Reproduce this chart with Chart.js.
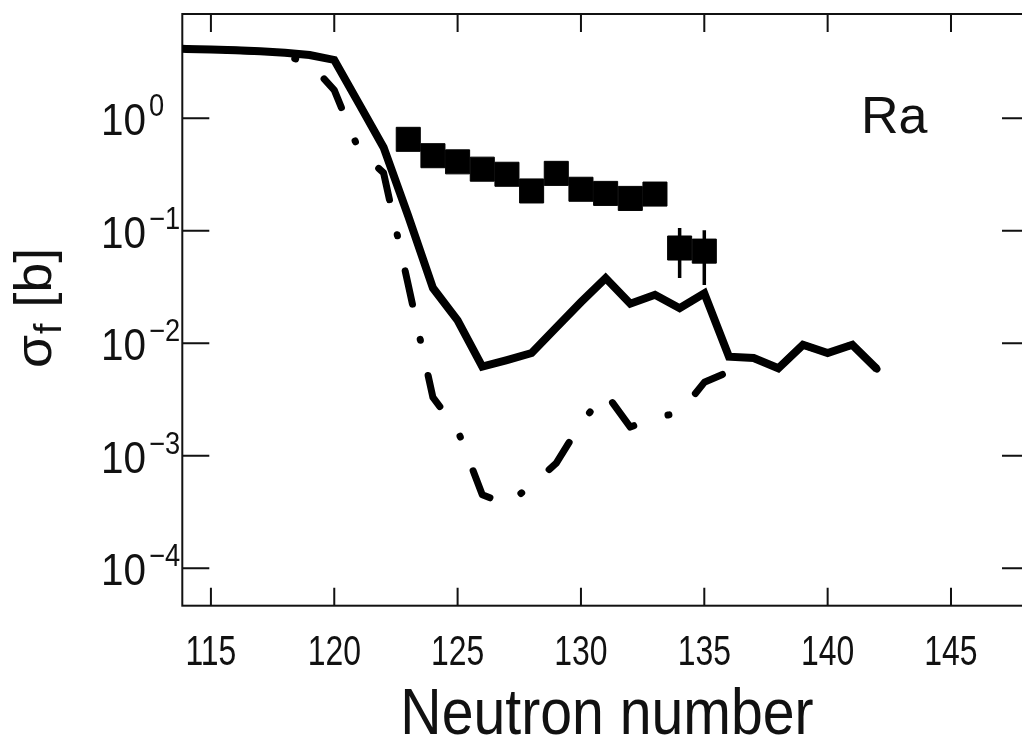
<!DOCTYPE html>
<html>
<head>
<meta charset="utf-8">
<script src="https://cdn.jsdelivr.net/npm/chart.js@4.4.1/dist/chart.umd.min.js"></script>
<style>
  html, body { margin: 0; padding: 0; background: #fff; overflow: hidden; }
  #myChart { display: block; }
</style>
</head>
<body>
<canvas id="myChart" width="1026" height="742"></canvas>
<script>
// neutron numbers for the calculated curves
const neutronN = [113, 114, 115, 116, 117, 118, 119, 120, 121, 122, 123, 124, 125, 126, 127,
  128, 129, 130, 131, 132, 133, 134, 135, 136, 137, 138, 139, 140, 141, 142];
// solid curve
const sigmaCalc = [4.2, 4.13, 4.08, 4.02, 3.95, 3.82, 3.65, 3.3, 1.35, 0.55, 0.135, 0.031, 0.016, 0.0062, 0.0071,
  0.0082, 0.0138, 0.0232, 0.038, 0.0225, 0.027, 0.0205, 0.0278, 0.0076, 0.0074, 0.006, 0.0097, 0.0082, 0.0097, 0.0059];
// dash-dot curve
const sigmaCalc2 = [4.2, 4.13, 4.08, 4.02, 3.92, 3.6, 3.1, 1.78, 0.52, 0.327, 0.033, 0.0033, 0.0017, 0.00045, 0.00037,
  0.00055, 0.00086, 0.00195, 0.0036, 0.0018, 0.0022, 0.0024, 0.0045, 0.0056, 0.0074, 0.006, 0.0097, 0.0082, 0.0097, 0.0059];
// experimental points
const expN = [123, 124, 125, 126, 127, 128, 129, 130, 131, 132, 133, 134, 135];
const sigmaExp = [0.65, 0.465, 0.41, 0.353, 0.318, 0.226, 0.324, 0.234, 0.215, 0.194, 0.212, 0.0703, 0.066];
const errN = [134, 135];
const errLow = [0.038, 0.033];
const errHigh = [0.106, 0.101];

const xTicks = [115, 120, 125, 130, 135, 140, 145];
const yTicks = [1, 0.1, 0.01, 0.001, 0.0001];
const yExponents = ["0", "\u22121", "\u22122", "\u22123", "\u22124"];

const sans = '"Liberation Sans", Arial, sans-serif';
const ink = "#111";

// text squeezed sideways, the original uses a narrow font
function narrowText(ctx, text, x, y, size, sx, align) {
  ctx.save();
  ctx.font = size + "px " + sans;
  ctx.textAlign = align || "left";
  ctx.textBaseline = "alphabetic";
  ctx.translate(x, y);
  ctx.scale(sx, 1);
  ctx.fillText(text, 0, 0);
  const w = ctx.measureText(text).width * sx;
  ctx.restore();
  return w;
}

const axisPlugin = {
  id: "axisFrame",
  beforeDatasetsDraw(chart) {
    const { ctx, chartArea: a, scales } = chart;
    ctx.save();
    ctx.strokeStyle = ink;
    ctx.lineWidth = 2;
    ctx.strokeRect(a.left, a.top, a.right - a.left, a.bottom - a.top);
    ctx.beginPath();
    xTicks.forEach((v) => {
      const px = scales.x.getPixelForValue(v);
      ctx.moveTo(px, a.bottom);
      ctx.lineTo(px, a.bottom - 18);
      ctx.moveTo(px, a.top);
      ctx.lineTo(px, a.top + 18);
    });
    yTicks.forEach((v) => {
      const py = scales.y.getPixelForValue(v);
      ctx.moveTo(a.left, py);
      ctx.lineTo(a.left + 27, py);
      ctx.moveTo(a.right, py);
      ctx.lineTo(a.right - 23, py);
    });
    ctx.stroke();
    ctx.restore();
  },
  afterDatasetsDraw(chart) {
    const { ctx, scales } = chart;
    ctx.save();
    ctx.strokeStyle = "#000";
    ctx.lineWidth = 3.5;
    ctx.beginPath();
    errN.forEach((n, i) => {
      const px = scales.x.getPixelForValue(n);
      ctx.moveTo(px, scales.y.getPixelForValue(errLow[i]));
      ctx.lineTo(px, scales.y.getPixelForValue(errHigh[i]));
    });
    ctx.stroke();
    ctx.restore();
  },
  afterDraw(chart) {
    const { ctx, scales } = chart;
    ctx.save();
    ctx.fillStyle = ink;
    // x tick labels
    xTicks.forEach((v) => {
      narrowText(ctx, String(v), scales.x.getPixelForValue(v), 665, 42, 0.76, "center");
    });
    // y tick labels 10^n
    yTicks.forEach((v, i) => {
      const py = scales.y.getPixelForValue(v);
      const w = narrowText(ctx, "10", 101, py + 17, 44, 0.92);
      narrowText(ctx, yExponents[i], 101 + w + 3, py - 2, 31, 0.88);
    });
    // x title
    narrowText(ctx, "Neutron number", 607, 734, 65, 0.88, "center");
    // y title: sigma_f [b]
    ctx.save();
    ctx.translate(51, 368);
    ctx.rotate(-Math.PI / 2);
    let x0 = 0;
    x0 += narrowText(ctx, "\u03c3", x0, 0, 52, 1.03);
    x0 += narrowText(ctx, "f", x0 + 1, 10, 38, 1.0) + 2;
    narrowText(ctx, " [b]", x0, 0, 52, 1.03);
    ctx.restore();
    // element label
    ctx.font = "52px " + sans;
    ctx.textAlign = "left";
    ctx.textBaseline = "alphabetic";
    ctx.fillText("Ra", 861, 133);
    ctx.restore();
  }
};

new Chart("myChart", {
  type: "line",
  data: {
    datasets: [
      {
        label: "exp",
        data: expN.map((n, i) => ({ x: n, y: sigmaExp[i] })),
        showLine: false,
        pointStyle: "rect",
        pointRadius: 17,
        pointBorderWidth: 1,
        pointBackgroundColor: "#000",
        pointBorderColor: "#000",
        order: 0,
      },
      {
        label: "calc",
        data: neutronN.map((n, i) => ({ x: n, y: sigmaCalc[i] })),
        borderColor: "#000",
        borderWidth: 8,
        pointRadius: 0,
        tension: 0,
        borderJoinStyle: "miter",
        order: 1,
      },
      {
        label: "calc2",
        data: neutronN.map((n, i) => ({ x: n, y: sigmaCalc2[i] })),
        borderColor: "#000",
        borderWidth: 7,
        pointRadius: 0,
        tension: 0,
        borderDash: [34, 36, 1, 36],
        borderDashOffset: 43,
        borderCapStyle: "round",
        borderJoinStyle: "round",
        order: 2,
      },
    ],
  },
  options: {
    responsive: false,
    devicePixelRatio: 1,
    animation: false,
    layout: { autoPadding: false, padding: { top: 14, right: 1, left: 0, bottom: 0 } },
    plugins: { legend: { display: false }, tooltip: { enabled: false } },
    scales: {
      x: {
        type: "linear",
        min: 113.84,
        max: 148.0,
        grid: { display: false, drawTicks: false },
        border: { display: false },
        afterBuildTicks: (scale) => {
          scale.ticks = xTicks.map((v) => ({ value: v }));
        },
        afterFit: (scale) => {
          scale.height = 136.3;
        },
        ticks: { display: false },
        title: { display: false },
      },
      y: {
        type: "logarithmic",
        min: 4.656e-5,
        max: 8.45,
        grid: { display: false, drawTicks: false },
        border: { display: false },
        afterBuildTicks: (scale) => {
          scale.ticks = yTicks.map((v) => ({ value: v }));
        },
        afterFit: (scale) => {
          scale.width = 182.3;
        },
        ticks: { display: false },
      },
    },
  },
  plugins: [axisPlugin],
});
</script>
</body>
</html>
